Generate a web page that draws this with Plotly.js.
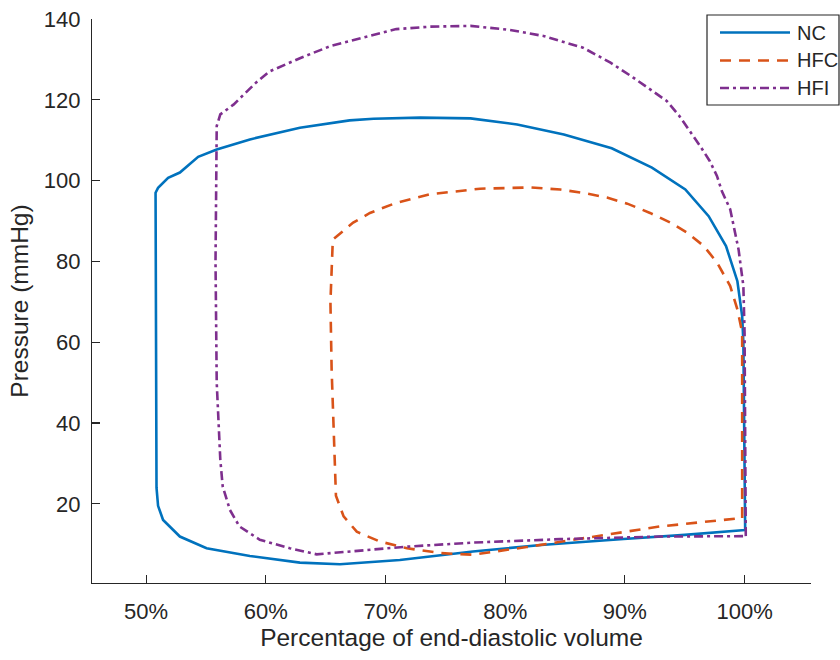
<!DOCTYPE html>
<html>
<head>
<meta charset="utf-8">
<script src="https://cdn.plot.ly/plotly-3.0.1.min.js"></script>
<style>html,body{margin:0;padding:0;background:#fff;}#chart{width:840px;height:660px;}</style>
</head>
<body>
<div id="chart"></div>
<script>
// Percentage of end-diastolic volume (%) and pressure (mmHg) for each loop
const ncVolume = [100.05, 100.0, 99.9, 99.8, 99.4, 98.45, 97.0, 95.05, 92.26, 88.9, 84.9, 81.0, 77.1, 72.9, 69.0, 67.0, 62.85, 58.67, 55.9, 54.35, 52.82, 51.84, 51.0, 50.79, 50.8, 50.87, 51.0, 51.42, 52.82, 55.05, 58.67, 62.85, 66.2, 71.2, 77.3, 83.0, 89.9, 95.0, 100.05];
const ncPressure = [13.5, 40, 60, 66.4, 75.1, 83.8, 91.2, 97.8, 103.2, 108.0, 111.4, 113.9, 115.4, 115.6, 115.3, 114.9, 113.1, 110.2, 107.7, 105.9, 102.0, 100.7, 98.2, 97.0, 60, 24, 19.5, 16.0, 11.9, 9.0, 7.1, 5.45, 5.05, 6.1, 8.2, 9.8, 11.3, 12.3, 13.5];

const hfcVolume = [99.8, 99.8, 99.8, 99.4, 98.8, 97.7, 96.6, 95.2, 93.8, 92.1, 90.2, 88.5, 86.8, 84.6, 82.1, 77.9, 73.7, 70.9, 68.7, 67.3, 65.6, 65.4, 65.5, 65.86, 66.5, 67.6, 69.5, 71.8, 74.6, 77.3, 81.8, 87.9, 92.95, 99.5, 99.8];
const hfcPressure = [16.5, 40, 62.4, 68.1, 73.9, 79.7, 83.8, 87.1, 89.6, 92.0, 94.3, 95.8, 96.8, 97.8, 98.3, 98.0, 96.6, 94.5, 92.0, 89.6, 85.4, 70, 53.2, 22.0, 16.9, 13.1, 10.7, 9.0, 7.8, 7.4, 9.3, 12.1, 14.4, 16.4, 16.5];

const hfiVolume = [100.1, 100.05, 100.0, 99.9, 99.5, 98.8, 98.1, 97.7, 97.1, 96.3, 95.4, 94.5, 93.5, 90.7, 88.8, 86.5, 83.2, 80.4, 77.1, 73.7, 70.9, 68.1, 65.4, 62.85, 60.3, 59.2, 57.3, 56.2, 55.9, 55.8, 55.9, 56.2, 56.4, 57.0, 57.8, 59.5, 62.0, 64.25, 67.6, 71.8, 77.3, 84.6, 92.95, 100.1];
const hfiPressure = [12.0, 40, 62.3, 73.9, 82.9, 92.9, 97.4, 101.1, 104.8, 108.5, 112.5, 116.2, 119.7, 125.5, 129.2, 132.9, 135.8, 137.3, 138.3, 138.1, 137.5, 135.4, 133.3, 130.3, 127.0, 124.3, 118.8, 116.4, 113.5, 80, 50, 30.9, 24.3, 18.5, 14.4, 11.1, 9.0, 7.5, 8.4, 9.4, 10.4, 11.25, 11.9, 12.0];

const seriesNames = ['NC', 'HFC', 'HFI'];
const xTickVals = [50, 60, 70, 80, 90, 100];
const xTickText = ['50%', '60%', '70%', '80%', '90%', '100%'];
const yTickVals = [20, 40, 60, 80, 100, 120, 140];

const axisColor = '#262626';
const fontFamily = 'Arial, "Liberation Sans", sans-serif';
const colors = ['#0072BD', '#D95319', '#7E2F8E'];
const dashes = ['solid', '11px,8px', '9px,4px,3px,4px'];
const lineW = 2.6;

const vols = [ncVolume, hfcVolume, hfiVolume];
const press = [ncPressure, hfcPressure, hfiPressure];

const traces = seriesNames.map((n, i) => ({
  x: vols[i], y: press[i], name: n, mode: 'lines', showlegend: false,
  line: {color: colors[i], width: lineW, dash: dashes[i]}
}));

// Plot area in pixels (for placing the hand-drawn legend box in paper coords)
const M = {l: 92, r: 29, t: 19, b: 77};
const W = 840, H = 660;
const pw = W - M.l - M.r, ph = H - M.t - M.b;
const px = v => (v - M.l) / pw;
const py = v => (H - M.b - v) / ph;

const shapes = [{
  type: 'rect', xref: 'paper', yref: 'paper',
  x0: px(707), x1: px(839), y0: py(105), y1: py(15),
  line: {color: axisColor, width: 1.2}, fillcolor: '#fff', layer: 'above'
}];
const annotations = [];
const rowY = [32.5, 60.5, 88];
seriesNames.forEach((n, i) => {
  shapes.push({
    type: 'line', xref: 'paper', yref: 'paper',
    x0: px(720), x1: px(790), y0: py(rowY[i]), y1: py(rowY[i]),
    line: {color: colors[i], width: lineW, dash: dashes[i]}, layer: 'above'
  });
  annotations.push({
    xref: 'paper', yref: 'paper', x: px(795), y: py(rowY[i]),
    xanchor: 'left', yanchor: 'middle', showarrow: false, text: n,
    font: {family: fontFamily, size: 20, color: axisColor}
  });
});

const layout = {
  width: W, height: H,
  margin: M,
  paper_bgcolor: '#fff', plot_bgcolor: '#fff',
  font: {family: fontFamily, size: 22, color: axisColor},
  showlegend: false,
  shapes: shapes,
  annotations: annotations,
  xaxis: {
    range: [45.48, 105.55], tickmode: 'array', tickvals: xTickVals, ticktext: xTickText,
    showline: true, linecolor: axisColor, linewidth: 1.2,
    ticks: 'inside', ticklen: 8, tickcolor: axisColor, tickwidth: 1.2,
    showgrid: false, zeroline: false, ticklabelstandoff: 8,
    tickfont: {size: 22, color: axisColor},
    title: {text: 'Percentage of end-diastolic volume', font: {size: 24.5, color: axisColor}, standoff: 4}
  },
  yaxis: {
    range: [0.4, 140], tickmode: 'array', tickvals: yTickVals,
    showline: true, linecolor: axisColor, linewidth: 1.2,
    ticks: 'inside', ticklen: 8, tickcolor: axisColor, tickwidth: 1.2,
    showgrid: false, zeroline: false, ticklabelstandoff: 6,
    tickfont: {size: 22, color: axisColor},
    title: {text: 'Pressure (mmHg)', font: {size: 24.5, color: axisColor}, standoff: 8}
  }
};

Plotly.newPlot('chart', traces, layout, {displayModeBar: false, staticPlot: true});
</script>
</body>
</html>
